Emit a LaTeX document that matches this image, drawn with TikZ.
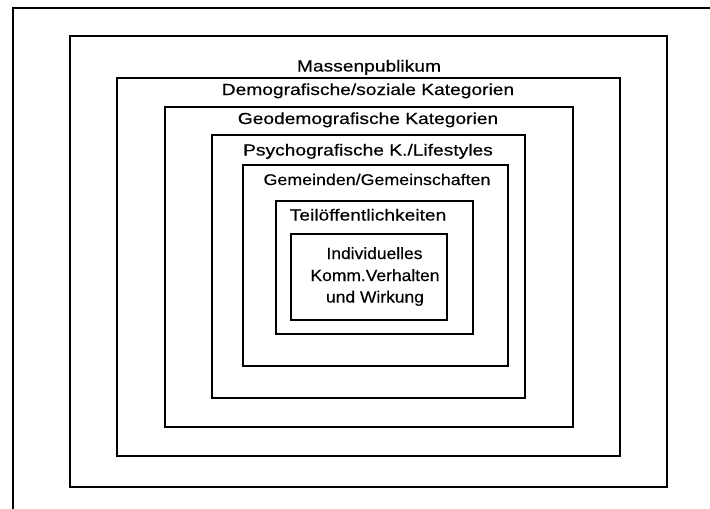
\documentclass[tikz,border=0pt]{standalone}
\usepackage{fontspec}
\setmainfont{Liberation Sans}
% slightly heavier strokes for the labels
\newfontfamily\lblfont[BoldFont={Liberation Sans}, BoldFeatures={FakeBold=0.35}]{Liberation Sans}
\begin{document}
\begin{tikzpicture}[x=1pt,y=-1pt,
  ring/.style={draw=black, line width=1.9pt},
  frame/.style={draw=black, line width=2.4pt},
  lbl/.style={anchor=base, inner sep=0pt, xscale=1.2, font=\lblfont\bfseries\fontsize{16}{19}\selectfont},
  midlbl/.style={anchor=base, inner sep=0pt, xscale=1.15, font=\lblfont\bfseries\fontsize{15.5}{19}\selectfont},
  corelbl/.style={anchor=base, inner sep=0pt, xscale=1.07, font=\lblfont\bfseries\fontsize{16.3}{19}\selectfont},
]
\useasboundingbox (0,0) rectangle (710,509);
% page frame: top and left edge only
\coordinate (frTR) at (710,7.8);
\coordinate (frTL) at (13,7.8);
\coordinate (frBL) at (13,509);
\draw[frame] (frTR) -- (frTL) -- (frBL);

% nested audience levels, outermost first
\draw[ring] (70,36) rectangle (667,487);
\draw[ring] (117,78) rectangle (620,456);
\draw[ring] (165,107) rectangle (573,427);
\draw[ring] (212,135) rectangle (525,398);
\draw[ring] (243,165) rectangle (508,366);
\draw[ring] (276,201) rectangle (473,334);
\draw[ring] (291,234) rectangle (447,320);

% level labels
\node[lbl] (l1) at (369,71.5) {Massenpublikum};
\node[lbl] (l2) at (368,95) {Demografische/soziale Kategorien};
\node[lbl] (l3) at (368,124) {Geodemografische Kategorien};
\node[lbl] (l4) at (368,155.5) {Psychografische K./Lifestyles};
\node[midlbl] (l5) at (377,185) {Gemeinden/Gemeinschaften};
\node[lbl] (l6) at (368,220.5) {Teilöffentlichkeiten};
\node[corelbl] (l7a) at (374.5,259) {Individuelles};
\node[corelbl] (l7b) at (375,281) {Komm.Verhalten};
\node[corelbl] (l7c) at (375,302.5) {und Wirkung};
\end{tikzpicture}
\end{document}
